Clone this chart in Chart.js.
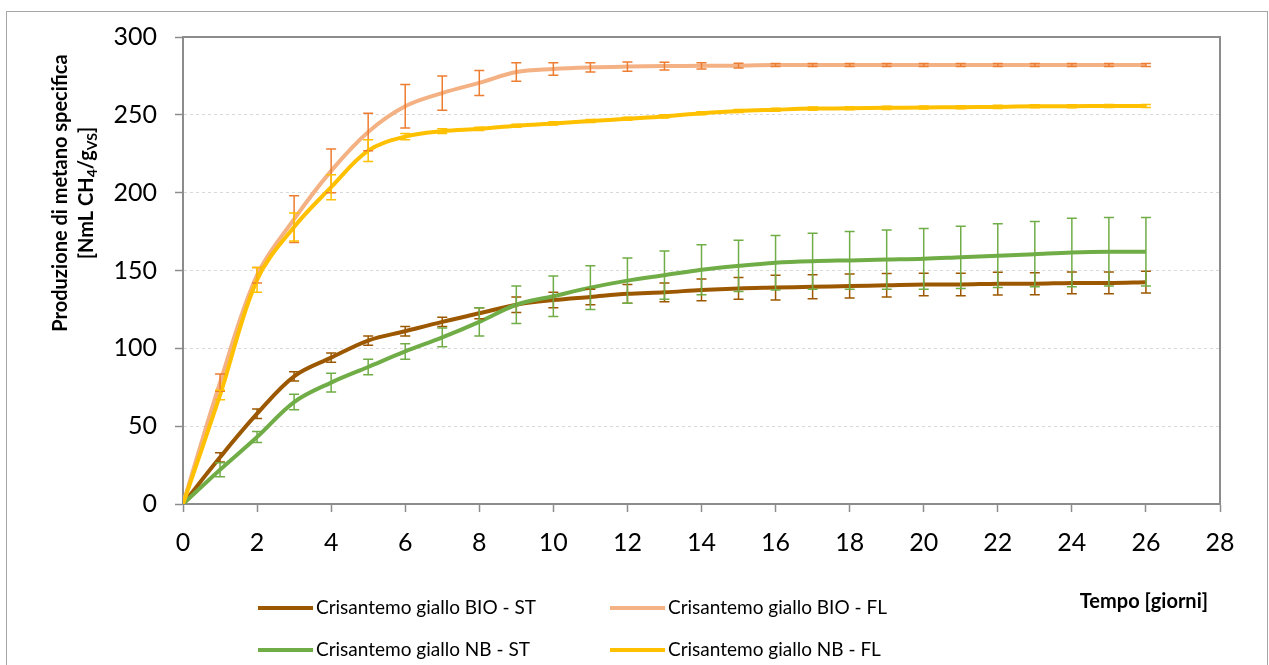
<!DOCTYPE html>
<html>
<head>
<meta charset="utf-8">
<script src="https://cdn.jsdelivr.net/npm/chart.js@4.4.0/dist/chart.umd.min.js"></script>
<style>
  body { margin: 0; background: #fff; }
</style>
</head>
<body>
<canvas id="myChart" width="1269" height="665"></canvas>
<script>
// giorni di digestione
const giorni = [0, 1, 2, 3, 4, 5, 6, 7, 8, 9, 10, 11, 12, 13, 14, 15, 16, 17, 18, 19, 20, 21, 22, 23, 24, 25, 26];

// produzione specifica [NmL CH4/gVS] e deviazione standard
const bioSt = [0, 30, 58, 82, 94, 105, 111, 117, 122.5, 128, 131, 133, 135, 136, 137.5, 138.5, 139, 139.5, 140, 140.5, 141, 141, 141.5, 141.5, 142, 142, 142.5];
const bioStErr = [0, 3, 3, 3, 3, 3, 3, 3, 3.5, 5, 5, 5, 6, 6, 7, 7, 8, 7.7, 7.7, 7.5, 7.3, 7.3, 7.3, 7, 7, 7, 7];

const bioFl = [0, 78, 147, 183, 214, 239, 255.5, 264, 270.5, 277.5, 279.5, 280.5, 281, 281.3, 281.5, 281.6, 282, 282, 282, 282, 282, 282, 282, 282, 282, 282, 282];
const bioFlErr = [0, 5.5, 5, 15, 14, 12, 14, 11, 8, 6, 4, 3, 3, 2.5, 2, 1.5, 1, 1, 1, 1, 1, 1, 1, 1, 1, 1, 1];

const nbSt = [0, 22, 43, 65.5, 78, 88, 98, 107, 117, 128, 133.5, 139, 143.5, 147, 150.5, 153, 155, 156, 156.5, 157, 157.5, 158.5, 159.5, 160.5, 161.5, 162, 162];
const nbStErr = [0, 4.5, 3.5, 5, 6, 5, 5, 6, 9, 12, 13, 14, 14.5, 15.5, 16, 16.5, 17.5, 18, 18.5, 19, 19.5, 20, 20.5, 21, 22, 22, 22];

const nbFl = [0, 70, 144, 178, 203.5, 227, 236, 239.5, 241, 243, 244.5, 246, 247.5, 249, 251, 252.5, 253.3, 254, 254.2, 254.5, 254.7, 254.9, 255.1, 255.5, 255.5, 255.7, 255.7];
const nbFlErr = [0, 3, 8, 9, 8, 7, 2, 1.5, 1, 1, 1, 1, 1, 1, 1, 1, 1, 1, 1, 1, 1, 1, 1, 1, 1, 1, 1];

const serie = [
    { label: 'Crisantemo giallo BIO - ST', dati: bioSt, err: bioStErr, colore: '#9C5800', coloreErr: '#9C5800', ordine: 3 },
    { label: 'Crisantemo giallo BIO - FL', dati: bioFl, err: bioFlErr, colore: '#F4B183', coloreErr: '#ED7D31', ordine: 2 },
    { label: 'Crisantemo giallo NB - ST', dati: nbSt, err: nbStErr, colore: '#70AD47', coloreErr: '#70AD47', ordine: 1 },
    { label: 'Crisantemo giallo NB - FL', dati: nbFl, err: nbFlErr, colore: '#FFC000', coloreErr: '#FFC000', ordine: 0 }
];

const grigio = '#8C8C8C';

// barre di errore, bordo e testi disegnati sopra il grafico
const decorazioni = {
    id: 'decorazioni',
    beforeDraw(chart) {
        const c = chart.ctx;
        c.save();
        c.fillStyle = '#fff';
        c.fillRect(0, 0, chart.width, chart.height);
        c.strokeStyle = '#A6A6A6';
        c.lineWidth = 1;
        c.strokeRect(6.5, 11.5, 1261, 700);
        c.restore();
    },
    beforeDatasetsDraw(chart) {
        const c = chart.ctx, a = chart.chartArea;
        c.save();
        c.strokeStyle = grigio;
        c.lineWidth = 2;
        c.strokeRect(a.left, a.top, a.right - a.left, a.bottom - a.top);
        c.restore();
    },
    afterDatasetsDraw(chart) {
        const c = chart.ctx;
        const xs = chart.scales.x, ys = chart.scales.y;
        c.save();
        c.lineWidth = 1.5;
        serie.forEach(s => {
            c.strokeStyle = s.coloreErr;
            s.dati.forEach((v, j) => {
                const e = s.err[j];
                if (!e) return;
                const x = xs.getPixelForValue(giorni[j]);
                const y1 = ys.getPixelForValue(v + e);
                const y2 = ys.getPixelForValue(v - e);
                c.beginPath();
                c.moveTo(x, y1); c.lineTo(x, y2);
                c.moveTo(x - 5, y1); c.lineTo(x + 5, y1);
                c.moveTo(x - 5, y2); c.lineTo(x + 5, y2);
                c.stroke();
            });
        });
        c.restore();
    },
    afterDraw(chart) {
        const c = chart.ctx;
        c.save();
        c.fillStyle = '#000';
        c.textBaseline = 'middle';

        // titolo asse y
        c.font = 'bold 20px Lato';
        c.translate(61, 193);
        c.rotate(-Math.PI / 2);
        c.textAlign = 'center';
        c.fillText('Produzione di metano specifica', 0, 0);
        const pezzi = [['[NmL CH', 0], ['4', 1], ['/g', 0], ['VS', 1], [']', 0]];
        const fontPezzo = sub => sub ? 'bold 14px Lato' : 'bold 20px Lato';
        let tot = 0;
        pezzi.forEach(p => { c.font = fontPezzo(p[1]); tot += c.measureText(p[0]).width; });
        let px = -tot / 2;
        c.textAlign = 'left';
        pezzi.forEach(p => {
            c.font = fontPezzo(p[1]);
            c.fillText(p[0], px, 26 + (p[1] ? 5 : 0));
            px += c.measureText(p[0]).width;
        });
        c.setTransform(1, 0, 0, 1, 0, 0);

        // titolo asse x
        c.font = 'bold 20px Lato';
        c.textAlign = 'right';
        c.fillText('Tempo [giorni]', 1208, 602);

        // legenda
        const colX = [258, 610];
        const rigaY = [608, 650];
        c.font = '19px Lato';
        c.textAlign = 'left';
        serie.forEach((s, i) => {
            const x = colX[i % 2], y = rigaY[Math.floor(i / 2)];
            c.strokeStyle = s.colore;
            c.lineWidth = 4;
            c.beginPath();
            c.moveTo(x, y); c.lineTo(x + 55, y);
            c.stroke();
            c.fillText(s.label, x + 58, y);
        });
        c.restore();
    }
};

const ctx = document.getElementById('myChart');
const myChart = new Chart(ctx, {
    type: 'line',
    data: {
        datasets: serie.map(s => ({
            label: s.label,
            data: s.dati.map((v, j) => ({ x: giorni[j], y: v })),
            borderColor: s.colore,
            backgroundColor: s.colore,
            borderWidth: 4,
            pointRadius: 0,
            tension: 0.35,
            order: s.ordine
        }))
    },
    options: {
        responsive: false,
        animation: false,
        devicePixelRatio: 1,
        layout: { padding: { top: 37, right: 49, left: 0, bottom: 0 } },
        plugins: {
            legend: { display: false },
            tooltip: { enabled: false }
        },
        scales: {
            x: {
                type: 'linear',
                min: 0,
                max: 28,
                afterFit: s => { s.height = 161; },
                ticks: { stepSize: 2, padding: 16, color: '#000', font: { family: 'Lato', size: 25 } },
                grid: { drawOnChartArea: false, tickLength: 8, tickColor: grigio, tickWidth: 1.5 },
                border: { color: grigio, width: 2 }
            },
            y: {
                min: 0,
                max: 300,
                afterFit: s => { s.width = 183; },
                ticks: { stepSize: 50, padding: 18, color: '#000', font: { family: 'Lato', size: 25 } },
                grid: { color: '#D9D9D9', tickLength: 8, tickColor: grigio, tickWidth: 1.5, tickBorderDash: [] },
                border: { color: grigio, width: 2, dash: [3, 3] }
            }
        }
    },
    plugins: [decorazioni]
});
</script>
</body>
</html>
